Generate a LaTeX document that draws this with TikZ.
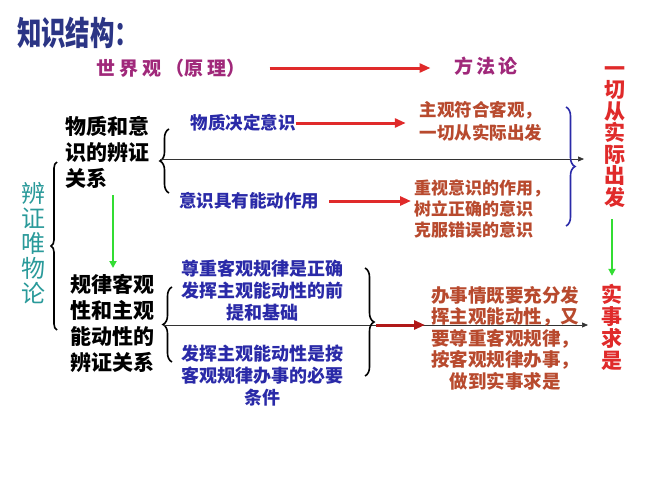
\documentclass[tikz,border=0pt]{standalone}
\usepackage{fontspec}
\usepackage{graphicx}
\setmainfont{Noto Sans CJK SC}
\usetikzlibrary{arrows.meta,decorations.pathreplacing}
\definecolor{titlec}{HTML}{2B3585}
\definecolor{magc}{HTML}{A0287A}
\definecolor{redc}{HTML}{E02A2A}
\definecolor{brownc}{HTML}{B84A2E}
\definecolor{bluec}{HTML}{2A2AA8}
\definecolor{tealc}{HTML}{2A9A9A}
\definecolor{greenc}{HTML}{33DD33}
\definecolor{darkredc}{HTML}{B01818}
\newcommand\myfs[2]{\fontsize{#1}{#2}\selectfont}
\tikzset{
  txt/.style={inner sep=0pt, outer sep=0pt},
  redarrow/.style={draw=redc, line width=3pt, -{Triangle[length=11pt,width=9pt]}},
  greenarrow/.style={draw=greenc, line width=2pt, -{Triangle[length=7pt,width=7pt]}},
  thinarrow/.style={draw=black!80, line width=0.7pt, -{Triangle[length=6pt,width=5pt]}},
  lbrace/.style={draw=black, line width=1.6pt, decorate, decoration={brace, amplitude=9pt}},
  bigbrace/.style={draw=black, line width=1.6pt, decorate, decoration={brace, amplitude=6pt}},
  bluebrace/.style={draw=bluec, line width=1.6pt, decorate, decoration={brace, amplitude=9pt}},
}
\begin{document}
\begin{tikzpicture}[x=1pt,y=-1pt]
\useasboundingbox[fill=white] (0,0) rectangle (650,487);
% title
\node[txt, anchor=west, text=titlec, font=\myfs{33}{33}\bfseries] (title) at (17,33) {\scalebox{0.74}[1]{知识结构：}};
% header
\node[txt, text=magc, font=\myfs{19}{19}\bfseries] (sjg) at (171,68) {世\hspace{4pt}界\hspace{4pt}观\hspace{4pt}（原\hspace{4pt}理）};
\node[txt, text=magc, font=\myfs{19}{19}\bfseries] (ffl) at (486,66) {方\hspace{3pt}法\hspace{3pt}论};
\draw[redarrow] ([xshift=24pt]sjg.east) coordinate (a1) -- ([xshift=-24pt]ffl.west |- sjg.east) coordinate (a2);
% right vertical
\node[txt, text=redc, align=center, font=\myfs{21}{21.5}\bfseries] (yq) at (615,137) {一\\切\\从\\实\\际\\出\\发};
\node[txt, text=redc, align=center, font=\myfs{21}{22}\bfseries] (ss) at (612,327) {实\\事\\求\\是};
\draw[greenarrow] ([yshift=-12pt]yq.south -| ss.north) coordinate (g1) -- ([yshift=8pt]ss.north) coordinate (g2);
% left vertical
\node[txt, text=tealc, align=center, font=\myfs{24}{25}] (bz) at (33,243) {辨\\证\\唯\\物\\论};
\draw[bigbrace] (57,330) coordinate (lb1) -- (57,162) coordinate (lb2);
% upper block
\node[txt, anchor=north west, align=left, font=\myfs{21}{26}\bfseries] (wz) at (65,116) {物质和意\\识的辨证\\关系};
\draw[lbrace] (169,193) coordinate (b1a) -- (169,129) coordinate (b1b);
\coordinate (t1) at (160,159);
\draw[thinarrow] (t1) -- (584,159) coordinate (e1);
\node[txt, text=bluec, font=\myfs{17.5}{17.5}\bfseries] (wzjd) at (243,123) {物质决定意识};
\node[txt, text=brownc, align=left, font=\myfs{17.5}{23}\bfseries] (zg) at (481,121) {主观符合客观，\\一切从实际出发};
\draw[redarrow] (wzjd.east) -- ([xshift=-14pt]zg.west |- wzjd.east);
\node[txt, text=bluec, font=\myfs{17.5}{17.5}\bfseries] (ysjy) at (249,201) {意识具有能动作用};
\node[txt, text=brownc, align=left, font=\myfs{17}{21}\bfseries] (zs) at (482,209) {重视意识的作用，\\树立正确的意识\\克服错误的意识};
\draw[redarrow] ([xshift=10pt]ysjy.east) -- ([xshift=-3pt]zs.west |- ysjy.east);
\draw[bluebrace] (566,107) coordinate (bb1) -- (566,226) coordinate (bb2);
% lower block
\node[txt, anchor=north west, align=left, font=\myfs{21}{26}\bfseries] (gl) at (70,274) {规律客观\\性和主观\\能动性的\\辨证关系};
% green left arrow
\coordinate (g3) at (113,195);
\coordinate (g4) at (113,268);
\draw[greenarrow] (g3) -- (g4);
\draw[lbrace] (172,362) coordinate (b2a) -- (172,287) coordinate (b2b);
\coordinate (t2) at (163,325);
\draw[thinarrow] (t2) -- (588,325) coordinate (e2);
\node[txt, text=bluec, align=center, font=\myfs{18}{22}\bfseries] (zz) at (262,291) {尊重客观规律是正确\\发挥主观能动性的前\\提和基础};
\node[txt, text=bluec, align=center, font=\myfs{18}{22}\bfseries] (fh) at (262,376) {发挥主观能动性是按\\客观规律办事的必要\\条件};
\draw[lbrace] (365,268) coordinate (b3a) -- (365,376) coordinate (b3b);
\node[txt, text=brownc, align=center, font=\myfs{18.5}{21.5}\bfseries] (bs) at (505,338) {办事情既要充分发\\挥主观能动性，又\\要尊重客观规律，\\按客观规律办事，\\做到实事求是};
\draw[draw=darkredc, line width=3pt, -{Triangle[length=11pt,width=9pt]}] (376,325) coordinate (d1) -- ([xshift=-6pt]bs.west |- d1);
\end{tikzpicture}
\end{document}
